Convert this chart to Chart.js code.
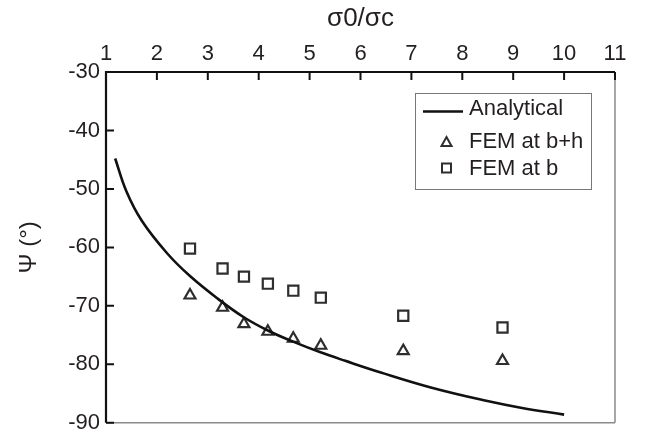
<!DOCTYPE html>
<html lang="en">
<head>
<meta charset="UTF-8">
<title>Psi vs sigma0/sigmac</title>
<script src="https://cdn.jsdelivr.net/npm/chart.js"></script>
<style>
  html, body { margin: 0; padding: 0; background: #fff; }
  #box { width: 645px; height: 442px; }
</style>
</head>
<body>
<div id="box"><canvas id="grafico"></canvas></div>
<script>
// valores
var curvaX = [1.18, 1.4, 1.7, 2.2, 2.65, 3.2, 3.7, 4.2, 4.7, 5.2, 5.7, 6.4, 7.4, 8.4, 9.2, 10.0];
var curvaY = [-44.8, -50.4, -55.4, -61.0, -64.9, -68.8, -71.9, -74.3, -76.2, -77.9, -79.4, -81.4, -84.0, -86.1, -87.5, -88.6];

var femX = [2.65, 3.29, 3.71, 4.18, 4.68, 5.22, 6.84, 8.79];
var triY = [-68.2, -70.3, -73.1, -74.4, -75.6, -76.8, -77.7, -79.4];
var quadY = [-60.2, -63.6, -65.0, -66.2, -67.4, -68.6, -71.7, -73.7];

var nomes = ['Analytical', 'FEM at b+h', 'FEM at b'];
var ticksX = [1, 2, 3, 4, 5, 6, 7, 8, 9, 10, 11];
var ticksY = [-30, -40, -50, -60, -70, -80, -90];

var fonte = 'Liberation Sans, Arial, sans-serif';
var corTexto = '#231f20';
var corMarca = '#2e2e2e';

function pares(xs, ys) {
    return xs.map(function (v, i) { return { x: v, y: ys[i] }; });
}

// moldura, ticks para dentro e legenda
var moldura = {
    id: 'moldura',
    afterDraw: function (chart) {
        var c = chart.ctx, a = chart.chartArea;
        var sx = chart.scales.x, sy = chart.scales.y;
        c.save();
        // lados cinza
        c.strokeStyle = '#8a8a8a';
        c.lineWidth = 1.5;
        c.beginPath();
        c.moveTo(a.right, a.top); c.lineTo(a.right, a.bottom);
        c.moveTo(a.left, a.bottom); c.lineTo(a.right, a.bottom);
        c.stroke();
        // lados pretos
        c.strokeStyle = '#111';
        c.lineWidth = 2.2;
        c.beginPath();
        c.moveTo(a.left, a.bottom); c.lineTo(a.left, a.top); c.lineTo(a.right, a.top);
        c.stroke();
        c.lineWidth = 2;
        c.beginPath();
        ticksX.forEach(function (t) {
            var px = sx.getPixelForValue(t);
            c.moveTo(px, a.top); c.lineTo(px, a.top + 8);
        });
        ticksY.forEach(function (t) {
            var py = sy.getPixelForValue(t);
            c.moveTo(a.left, py); c.lineTo(a.left + 8, py);
        });
        c.stroke();

        // legenda
        c.strokeStyle = '#777';
        c.lineWidth = 1;
        c.strokeRect(415.5, 93.5, 176, 96);
        c.strokeStyle = '#111';
        c.lineWidth = 2.5;
        c.beginPath();
        c.moveTo(423, 111.5); c.lineTo(463, 111.5);
        c.stroke();
        c.strokeStyle = corMarca;
        c.lineWidth = 2;
        c.beginPath();
        c.moveTo(446.5, 137); c.lineTo(451.5, 146); c.lineTo(441.5, 146); c.closePath();
        c.stroke();
        c.strokeRect(442, 163.5, 9, 9);
        c.fillStyle = corTexto;
        c.font = '22px ' + fonte;
        c.textBaseline = 'middle';
        c.textAlign = 'left';
        c.fillText(nomes[0], 469, 109);
        c.fillText(nomes[1], 469, 142);
        c.fillText(nomes[2], 469, 169);
        c.restore();
    }
};

var ctx = document.getElementById('grafico').getContext('2d');
var grafico = new Chart(ctx, {
    type: 'scatter',
    data: {
        datasets: [{
            label: nomes[0],
            type: 'line',
            data: pares(curvaX, curvaY),
            borderColor: '#111',
            borderWidth: 2.6,
            pointRadius: 0,
            tension: 0.4,
            fill: false
        }, {
            label: nomes[1],
            data: pares(femX, triY),
            pointStyle: 'triangle',
            pointRadius: 6.3,
            borderColor: corMarca,
            borderWidth: 2.2,
            backgroundColor: 'rgba(255,255,255,0)'
        }, {
            label: nomes[2],
            data: pares(femX, quadY),
            pointStyle: 'rect',
            pointRadius: 7.2,
            borderColor: corMarca,
            borderWidth: 2.2,
            backgroundColor: 'rgba(255,255,255,0)'
        }]
    },
    options: {
        responsive: true,
        maintainAspectRatio: false,
        animation: false,
        layout: { padding: { top: 0, left: 0, right: 30, bottom: 18 } },
        plugins: {
            legend: { display: false },
            tooltip: { enabled: false }
        },
        scales: {
            x: {
                type: 'linear',
                position: 'top',
                min: 1,
                max: 11,
                afterFit: function (s) { s.height = 72; },
                grid: { display: false, drawTicks: false },
                border: { display: false },
                ticks: { stepSize: 1, color: corTexto, padding: 5, font: { family: fonte, size: 22 } },
                title: { display: true, text: 'σ0/σc', color: corTexto, padding: { top: 3, bottom: 0 }, font: { family: fonte, size: 26 } }
            },
            y: {
                type: 'linear',
                min: -90,
                max: -30,
                afterFit: function (s) { s.width = 106; },
                grid: { display: false, drawTicks: false },
                border: { display: false },
                ticks: { stepSize: 10, color: corTexto, padding: 6, font: { family: fonte, size: 22 } },
                title: { display: true, text: 'Ψ (°)', color: corTexto, padding: { top: 15, bottom: 0 }, font: { family: fonte, size: 24 } }
            }
        }
    },
    plugins: [moldura]
});
</script>
</body>
</html>
